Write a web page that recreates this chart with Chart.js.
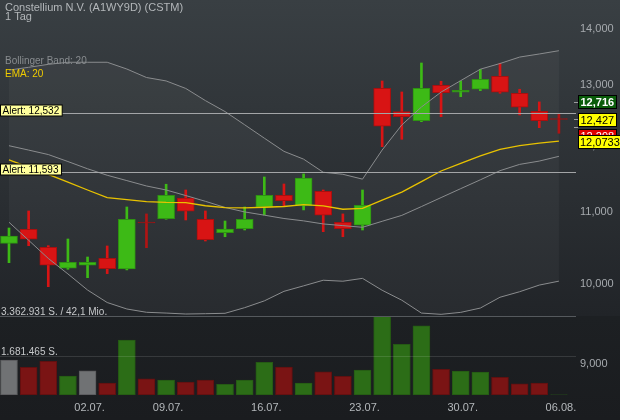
<!DOCTYPE html>
<html><head><meta charset="utf-8">
<script src="https://cdn.jsdelivr.net/npm/chart.js@4.4.1/dist/chart.umd.min.js"></script>
<style>html,body{margin:0;padding:0;background:#1b1e21;}canvas{display:block}</style>
</head><body>
<canvas id="c" width="620" height="420"></canvas>
<script>
// ---- data ----
const dates = ['26.06.','27.06.','28.06.','29.06.','02.07.','03.07.','05.07.','06.07.','09.07.','10.07.','11.07.','12.07.','13.07.','16.07.','17.07.','18.07.','19.07.','20.07.','23.07.','24.07.','25.07.','26.07.','27.07.','30.07.','31.07.','01.08.','02.08.','03.08.','06.08.'];
const xTickLabels = ['02.07.','09.07.','16.07.','23.07.','30.07.','06.08.'];
const priceTicks = [9, 10, 11, 12, 13, 14];
const open  = [10.550,10.749,10.497,10.210,10.251,10.346,10.201,10.853,10.900,11.202,10.892,10.701,10.757,11.066,11.242,11.085,11.302,10.849,10.806,12.947,12.553,12.405,12.998,12.879,12.930,13.153,12.862,12.560,12.440];
const high  = [10.767,11.012,10.519,10.612,10.363,10.515,11.070,10.969,11.407,11.321,11.012,10.867,11.070,11.517,11.411,11.563,11.321,10.969,11.321,13.072,12.884,13.386,13.067,13.072,13.275,13.381,12.930,12.716,12.516];
const low   = [10.286,10.519,9.965,10.197,10.084,10.138,10.188,10.491,10.892,10.882,10.584,10.644,10.739,10.954,11.085,11.027,10.715,10.644,10.739,11.987,12.104,12.389,12.471,12.804,12.906,12.862,12.499,12.291,12.201];
const close = [10.654,10.608,10.251,10.291,10.291,10.205,10.892,10.839,11.242,11.008,10.602,10.753,10.892,11.242,11.162,11.501,10.950,10.757,11.095,12.314,12.471,12.947,12.872,12.913,13.101,12.879,12.626,12.405,12.427];
const volume = [1490000,1180000,1430000,810000,1030000,510000,2340000,690000,640000,550000,640000,450000,640000,1390000,1190000,510000,990000,790000,1060000,3362931,2160000,2940000,1090000,1020000,980000,750000,480000,510000,8000];
const bbUpper  = [13.261,13.310,13.362,13.399,13.399,13.399,13.280,13.132,13.073,12.944,12.738,12.555,12.338,12.122,11.913,11.791,11.589,11.558,11.484,11.934,12.335,12.631,12.882,13.078,13.277,13.377,13.491,13.546,13.605];
const bbMiddle = [12.002,11.933,11.863,11.754,11.642,11.543,11.462,11.381,11.321,11.238,11.153,11.063,10.998,10.951,10.903,10.869,10.825,10.801,10.777,10.863,10.948,11.076,11.208,11.341,11.474,11.613,11.710,11.761,11.835];
const bbLower  = [10.849,10.594,10.344,10.134,9.921,9.759,9.676,9.634,9.624,9.612,9.616,9.621,9.693,9.780,9.904,9.976,10.050,10.037,10.075,9.918,9.789,9.624,9.608,9.633,9.688,9.827,9.899,9.986,10.038];
const ema20    = [11.779,11.667,11.557,11.438,11.321,11.206,11.177,11.148,11.136,11.133,11.088,11.062,11.056,11.066,11.077,11.105,11.085,11.037,11.051,11.171,11.288,11.446,11.608,11.726,11.841,11.945,12.003,12.043,12.0733];
const alerts = [12.532, 11.593];
const priceMarks = [12.716, 12.427, 12.298];   // green, yellow (last), red
const emaLast = 12.0733;
const turnoverMio = '42,1';
const title = 'Constellium N.V. (A1WY9D) (CSTM)';
const period = '1 Tag';

// ---- helpers ----
const FONT = "'Liberation Sans', Arial, sans-serif";
const idx = dates.map((d, i) => i);
const maxVol = Math.max(...volume);
const de = n => n.toString().replace('.', ',');
const fmtThousands = n => Math.floor(n).toString().replace(/\B(?=(\d{3})+(?!\d))/g, '.');
const up = idx.map(i => close[i] >= open[i]);
const isDoji = i => Math.abs(close[i] - open[i]) < 0.02;
const bodyFill = idx.map(i => up[i] ? '#3dba16' : (isDoji(i) ? '#a01212' : '#d81414'));
const bodyBorder = idx.map(i => up[i] ? '#2e9212' : (isDoji(i) ? '#a01212' : '#a80f0f'));
const wickCol = idx.map(i => up[i] ? '#3dba16' : (isDoji(i) ? '#b01414' : '#d81414'));
const volDir = idx.map(i => i === 0 ? 0 : Math.sign(close[i] - close[i - 1]));
const volFill = volDir.map(d => d > 0 ? '#2c6d17' : d < 0 ? '#7a1414' : '#707274');
const volBorder = volDir.map(d => d > 0 ? '#255a14' : d < 0 ? '#5f1010' : '#58595b');

const overlay = {
  id: 'overlay',
  beforeDraw(chart) {
    const {ctx, width, height, scales} = chart;
    const pTop = scales.yv.getPixelForValue(maxVol);
    ctx.save();
    const g = ctx.createLinearGradient(0, 0, 0, pTop);
    g.addColorStop(0, '#393f43');
    g.addColorStop(1, '#212428');
    ctx.fillStyle = g;
    ctx.fillRect(0, 0, width, pTop);
    const g2 = ctx.createLinearGradient(0, pTop, 0, height);
    g2.addColorStop(0, '#1d2023');
    g2.addColorStop(1, '#1a1c1f');
    ctx.fillStyle = g2;
    ctx.fillRect(0, pTop, width, height - pTop);
    ctx.restore();
  },
  afterDatasetsDraw(chart) {
    const {ctx, chartArea: a, scales: {y, yv}} = chart;
    ctx.save();
    const hline = (py, col) => {
      ctx.strokeStyle = col; ctx.lineWidth = 1;
      ctx.beginPath(); ctx.moveTo(a.left, py); ctx.lineTo(a.right, py); ctx.stroke();
    };
    // volume reference lines
    const vTop = Math.round(yv.getPixelForValue(maxVol)) + 0.5;
    const vHalf = Math.round(yv.getPixelForValue(maxVol / 2)) + 0.5;
    hline(vTop, '#55595d');
    hline(vHalf, 'rgba(255,255,255,0.12)');
    ctx.font = '10px ' + FONT;
    ctx.fillStyle = '#c6c8ca';
    ctx.textBaseline = 'alphabetic';
    ctx.textAlign = 'left';
    ctx.fillText(fmtThousands(maxVol) + ' S. / ' + turnoverMio + ' Mio.', 1, vTop - 2);
    ctx.fillText(fmtThousands(maxVol / 2) + ' S.', 1, vHalf - 1.5);
    // alert lines
    alerts.forEach(v => {
      const py = Math.round(y.getPixelForValue(v)) + 0.5;
      hline(py, '#a3a5a7');
      const txt = 'Alert: ' + de(v);
      ctx.font = '10px ' + FONT;
      const w = ctx.measureText(txt).width + 5;
      ctx.fillStyle = '#ffff9c';
      ctx.fillRect(0.5, py - 8.5, w, 11);
      ctx.strokeStyle = '#000'; ctx.lineWidth = 1;
      ctx.strokeRect(0.5, py - 8.5, w, 11);
      ctx.fillStyle = '#000';
      ctx.fillText(txt, 2.5, py + 0.5);
    });
    // title and legend
    ctx.font = '11px ' + FONT;
    ctx.fillStyle = '#b3b7ba';
    ctx.fillText(title, 5, 10.5);
    ctx.fillText(period, 5, 20);
    ctx.font = '10px ' + FONT;
    ctx.fillStyle = '#888c8f';
    ctx.fillText('Bollinger Band: 20', 5, 64);
    ctx.fillStyle = '#f0cc00';
    ctx.fillText('EMA: 20', 5, 77);
    // right price labels
    const styles = [
      {bg: '#0a5c0a', fg: '#ffffff', bold: true},
      {bg: '#ffff00', fg: '#000000', bold: false},
      {bg: '#e00000', fg: '#ffffff', bold: false}
    ];
    const bx = 578.5, bw = 38, bh = 13;
    let prevBottom = -1e9;
    priceMarks.forEach((v, k) => {
      const cy = y.getPixelForValue(v);
      ctx.strokeStyle = '#9a9c9e';
      ctx.beginPath(); ctx.moveTo(574, Math.round(cy) + 0.5); ctx.lineTo(578, Math.round(cy) + 0.5); ctx.stroke();
      let top = Math.round(cy - bh / 2) + 0.5;
      if (top < prevBottom) top = prevBottom + 3;
      prevBottom = top + bh;
      const s = styles[k];
      ctx.fillStyle = s.bg; ctx.fillRect(bx, top, bw, bh);
      ctx.strokeStyle = '#000'; ctx.strokeRect(bx, top, bw, bh);
      ctx.font = (s.bold ? 'bold ' : '') + '11px ' + FONT;
      ctx.fillStyle = s.fg;
      ctx.fillText(de(v), 580.5, top + 10.5);
    });
    // EMA label (front)
    const ce = y.getPixelForValue(emaLast);
    const te = Math.round(ce - bh / 2) + 0.5;
    ctx.fillStyle = '#ffff00'; ctx.fillRect(bx, te, 50, bh);
    ctx.strokeStyle = '#000'; ctx.strokeRect(bx, te, 50, bh);
    ctx.font = '11px ' + FONT;
    ctx.fillStyle = '#000';
    ctx.fillText(de(emaLast), 580, te + 10.5);
    ctx.restore();
  }
};

const pts = arr => arr.map((v, i) => ({x: i, y: v}));

new Chart(document.getElementById('c'), {
  type: 'bar',
  data: {
    datasets: [
      {type: 'bar', label: 'Volumen', yAxisID: 'yv', data: volume.map((v, i) => ({x: i, y: v})),
       backgroundColor: volFill, borderColor: volBorder, borderWidth: 1, borderSkipped: false,
       barThickness: 17, grouped: false, order: 10},
      {type: 'bar', label: 'Docht', yAxisID: 'y', data: idx.map(i => ({x: i, y: [low[i], high[i]]})),
       backgroundColor: wickCol, borderWidth: 0, barThickness: 2, grouped: false, order: 9},
      {type: 'bar', label: 'Kerze', yAxisID: 'y', data: idx.map(i => ({x: i, y: [open[i], close[i]]})),
       backgroundColor: bodyFill, borderColor: bodyBorder, borderWidth: 1, borderSkipped: false,
       barThickness: 17, grouped: false, order: 8},
      {type: 'line', label: 'BB oben', yAxisID: 'y', data: pts(bbUpper), borderColor: '#8a8c8e', borderWidth: 1,
       pointRadius: 0, tension: 0, fill: {target: 5}, backgroundColor: 'rgba(255,255,255,0.035)', order: 5},
      {type: 'line', label: 'BB Mitte', yAxisID: 'y', data: pts(bbMiddle), borderColor: '#8a8c8e', borderWidth: 1,
       pointRadius: 0, tension: 0, fill: false, order: 5},
      {type: 'line', label: 'BB unten', yAxisID: 'y', data: pts(bbLower), borderColor: '#8a8c8e', borderWidth: 1,
       pointRadius: 0, tension: 0, fill: false, order: 5},
      {type: 'line', label: 'EMA 20', yAxisID: 'y', data: pts(ema20), borderColor: '#e8c200', borderWidth: 1.3,
       pointRadius: 0, tension: 0, fill: false, order: 4}
    ]
  },
  options: {
    responsive: false,
    animation: false,
    devicePixelRatio: 1,
    layout: {padding: 0},
    events: [],
    plugins: {
      legend: {display: false},
      tooltip: {enabled: false},
      filler: {drawTime: 'beforeDatasetsDraw'}
    },
    scales: {
      x: {
        type: 'linear', position: 'bottom', min: -0.458, max: 28.87, offset: false,
        grid: {display: false, drawTicks: false}, border: {display: false},
        afterBuildTicks: s => { s.ticks = xTickLabels.map(l => ({value: dates.indexOf(l)})); },
        afterFit: s => { s.height = 25; s.paddingLeft = 0; s.paddingRight = 0; },
        ticks: {padding: 6, maxRotation: 0, autoSkip: false, labelOffset: 2, color: '#b4b8bb',
                font: {family: FONT, size: 11}, callback: v => dates[v]}
      },
      y: {
        type: 'logarithmic', position: 'right', min: 8.638, max: 14.546, bounds: 'data',
        grid: {display: false, drawTicks: false}, border: {display: false},
        afterBuildTicks: s => { s.ticks = priceTicks.map(v => ({value: v})); },
        afterFit: s => { s.width = 44; s.paddingTop = 0; s.paddingBottom = 0; },
        ticks: {padding: 4, autoSkip: false, color: '#a6aaae', font: {family: FONT, size: 11},
                callback: v => v.toFixed(3).replace('.', ',')}
      },
      yv: {type: 'linear', display: false, min: 0, max: maxVol * 5}
    }
  },
  plugins: [overlay]
});
</script>
</body></html>
